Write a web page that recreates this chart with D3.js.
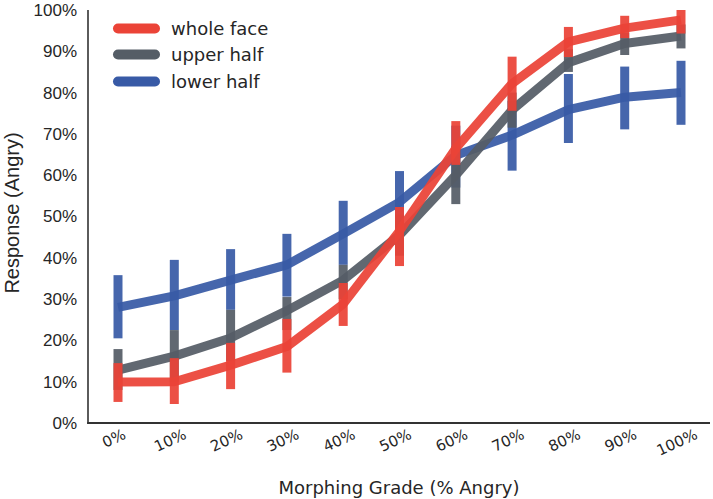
<!DOCTYPE html>
<html>
<head>
<meta charset="utf-8">
<script src="https://cdn.jsdelivr.net/npm/d3@7"></script>
<style>
  html, body { margin: 0; padding: 0; background: #fff; }
  svg { display: block; }
</style>
</head>
<body>
<svg id="chart" width="713" height="499"></svg>
<script>
// ---- data ----
const categories = ["0%","10%","20%","30%","40%","50%","60%","70%","80%","90%","100%"];
const seriesNames = ["whole face", "upper half", "lower half"];
const seriesColors = ["#eb4337", "#555d66", "#385aa6"];

const wholeMean = [9.9, 10.0, 14.0, 18.5, 28.8, 46.5, 66.5, 82.2, 92.3, 95.6, 97.6];
const wholeLow  = [5.1, 4.6, 8.2, 12.2, 23.5, 38.0, 62.5, 75.6, 88.6, 93.2, 94.3];
const wholeHigh = [14.5, 15.7, 19.4, 25.2, 33.9, 52.3, 73.1, 88.7, 95.9, 98.6, 100.0];

const upperMean = [12.8, 16.2, 20.6, 27.2, 34.6, 45.5, 60.0, 75.8, 87.2, 91.9, 93.7];
const upperLow  = [8.0, 10.0, 15.0, 22.5, 30.0, 40.5, 53.0, 71.5, 85.0, 89.1, 90.7];
const upperHigh = [17.9, 22.5, 27.4, 30.5, 38.3, 50.5, 67.0, 80.0, 90.5, 94.5, 96.5];

const lowerMean = [28.0, 30.8, 34.6, 38.3, 45.8, 53.5, 64.8, 69.7, 75.9, 78.9, 80.0];
const lowerLow  = [20.5, 22.5, 27.4, 30.6, 38.3, 47.0, 57.0, 61.1, 67.8, 71.1, 72.2];
const lowerHigh = [35.8, 39.5, 42.1, 45.8, 53.8, 61.0, 72.0, 78.0, 84.5, 86.3, 87.7];

const yTicks = [0,10,20,30,40,50,60,70,80,90,100];
const yTickLabels = ["0%","10%","20%","30%","40%","50%","60%","70%","80%","90%","100%"];

const series = [
  {name: seriesNames[0], color: seriesColors[0], mean: wholeMean, low: wholeLow, high: wholeHigh},
  {name: seriesNames[1], color: seriesColors[1], mean: upperMean, low: upperLow, high: upperHigh},
  {name: seriesNames[2], color: seriesColors[2], mean: lowerMean, low: lowerLow, high: lowerHigh}
];

// ---- layout ----
const svg = d3.select("#chart");
const x = d3.scalePoint().domain(categories).range([118, 681]);
const y = d3.scaleLinear().domain([0, 100]).range([423, 10]);
const plotLeft = 88, plotRight = 710;
const textColor = "#262626";

// draw series back to front: lower half, upper half, whole face
const line = d3.line().x(d => x(d.c)).y(d => y(d.v));
[2, 1, 0].forEach(i => {
  const s = series[i];
  const g = svg.append("g");
  g.append("path")
    .datum(categories.map((c, k) => ({c, v: s.mean[k]})))
    .attr("d", line)
    .attr("fill", "none")
    .attr("stroke", s.color)
    .attr("stroke-width", 9)
    .attr("stroke-opacity", 0.93)
    .attr("stroke-linejoin", "round")
    .attr("stroke-linecap", "butt");
  g.append("g").selectAll("line")
    .data(categories.map((c, k) => ({c, lo: s.low[k], hi: s.high[k]})))
    .join("line")
    .attr("x1", d => x(d.c)).attr("x2", d => x(d.c))
    .attr("y1", d => y(d.lo)).attr("y2", d => y(d.hi))
    .attr("stroke", s.color)
    .attr("stroke-width", 9)
    .attr("stroke-opacity", 0.93)
    .attr("stroke-linecap", "butt");
});

// spines
svg.append("line").attr("x1", plotLeft).attr("x2", plotLeft).attr("y1", y(100)).attr("y2", y(0) + 1)
  .attr("stroke", "#333").attr("stroke-width", 1.6);
svg.append("line").attr("x1", plotLeft - 0.8).attr("x2", plotRight).attr("y1", y(0)).attr("y2", y(0))
  .attr("stroke", "#333").attr("stroke-width", 1.8);

// y tick labels
svg.append("g").selectAll("text")
  .data(yTicks.map((t, k) => ({t, label: yTickLabels[k]})))
  .join("text")
  .attr("x", 77)
  .attr("y", d => y(d.t))
  .attr("dy", "0.35em")
  .attr("text-anchor", "end")
  .attr("font-family", "'Liberation Sans', Arial, sans-serif")
  .attr("font-size", 17)
  .attr("fill", textColor)
  .text(d => d.label);

// x tick labels (rotated)
const xt = svg.append("g").selectAll("text")
  .data(categories)
  .join("text")
  .attr("text-anchor", "middle")
  .attr("dominant-baseline", "central")
  .attr("font-family", "'DejaVu Sans', sans-serif")
  .attr("font-size", 15)
  .attr("fill", textColor)
  .text(d => d);
const ang = 25 * Math.PI / 180;
xt.each(function(d) {
  const w = this.getComputedTextLength();
  const h = 12;
  const bh = w * Math.sin(ang) + h * Math.cos(ang);
  d3.select(this).attr("transform", `translate(${x(d) - 4},${428 + bh / 2}) rotate(-25)`);
});

// axis titles
svg.append("text")
  .attr("x", 399).attr("y", 494)
  .attr("text-anchor", "middle")
  .attr("font-family", "'DejaVu Sans', sans-serif")
  .attr("font-size", 18)
  .attr("fill", textColor)
  .text("Morphing Grade (% Angry)");

svg.append("text")
  .attr("transform", "translate(19,213) rotate(-90)")
  .attr("text-anchor", "middle")
  .attr("font-family", "'Liberation Sans', Arial, sans-serif")
  .attr("font-size", 20)
  .attr("fill", textColor)
  .text("Response (Angry)");

// legend
const legendY = [28.5, 54.5, 81.5];
series.forEach((s, i) => {
  svg.append("line")
    .attr("x1", 118).attr("x2", 155)
    .attr("y1", legendY[i]).attr("y2", legendY[i])
    .attr("stroke", s.color).attr("stroke-width", 10)
    .attr("stroke-linecap", "round");
  svg.append("text")
    .attr("x", 171).attr("y", legendY[i])
    .attr("dy", "0.35em")
    .attr("font-family", "'DejaVu Sans', sans-serif")
    .attr("font-size", 18)
    .attr("fill", textColor)
    .text(s.name);
});
</script>
</body>
</html>
